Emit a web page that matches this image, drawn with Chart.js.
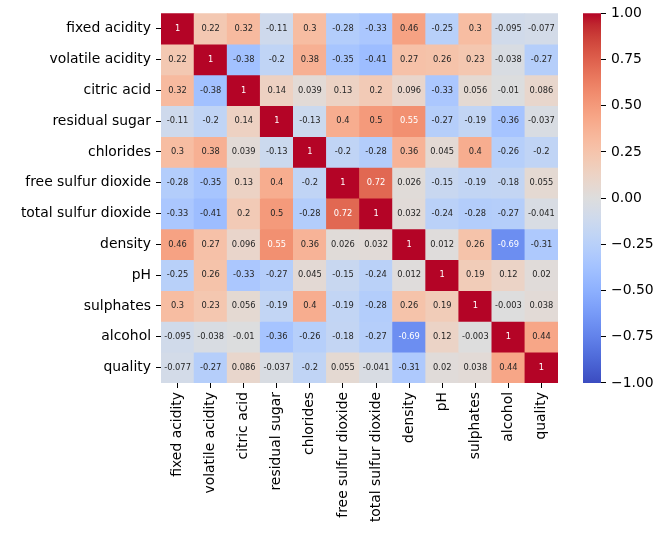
<!DOCTYPE html>
<html>
<head>
<meta charset="utf-8">
<script src="https://cdn.jsdelivr.net/npm/chart.js@4"></script>
<style>
html,body{margin:0;padding:0;background:#fff;}
.box{position:absolute;left:0;top:0;width:657px;height:534px;}
</style>
</head>
<body>
<div class="box"><canvas id="heat"></canvas></div>
<div class="box"><canvas id="cbar"></canvas></div>
<script>
const names = ["fixed acidity","volatile acidity","citric acid","residual sugar","chlorides","free sulfur dioxide","total sulfur dioxide","density","pH","sulphates","alcohol","quality"];

const rowFixedAcidity   = [1, 0.22, 0.32, -0.11, 0.3, -0.28, -0.33, 0.46, -0.25, 0.3, -0.095, -0.077];
const rowVolatile       = [0.22, 1, -0.38, -0.2, 0.38, -0.35, -0.41, 0.27, 0.26, 0.23, -0.038, -0.27];
const rowCitric         = [0.32, -0.38, 1, 0.14, 0.039, 0.13, 0.2, 0.096, -0.33, 0.056, -0.01, 0.086];
const rowResidualSugar  = [-0.11, -0.2, 0.14, 1, -0.13, 0.4, 0.5, 0.55, -0.27, -0.19, -0.36, -0.037];
const rowChlorides      = [0.3, 0.38, 0.039, -0.13, 1, -0.2, -0.28, 0.36, 0.045, 0.4, -0.26, -0.2];
const rowFreeSO2        = [-0.28, -0.35, 0.13, 0.4, -0.2, 1, 0.72, 0.026, -0.15, -0.19, -0.18, 0.055];
const rowTotalSO2       = [-0.33, -0.41, 0.2, 0.5, -0.28, 0.72, 1, 0.032, -0.24, -0.28, -0.27, -0.041];
const rowDensity        = [0.46, 0.27, 0.096, 0.55, 0.36, 0.026, 0.032, 1, 0.012, 0.26, -0.69, -0.31];
const rowPH             = [-0.25, 0.26, -0.33, -0.27, 0.045, -0.15, -0.24, 0.012, 1, 0.19, 0.12, 0.02];
const rowSulphates      = [0.3, 0.23, 0.056, -0.19, 0.4, -0.19, -0.28, 0.26, 0.19, 1, -0.003, 0.038];
const rowAlcohol        = [-0.095, -0.038, -0.01, -0.36, -0.26, -0.18, -0.27, -0.69, 0.12, -0.003, 1, 0.44];
const rowQuality        = [-0.077, -0.27, 0.086, -0.037, -0.2, 0.055, -0.041, -0.31, 0.02, 0.038, 0.44, 1];

const matrix = [rowFixedAcidity,rowVolatile,rowCitric,rowResidualSugar,rowChlorides,rowFreeSO2,rowTotalSO2,rowDensity,rowPH,rowSulphates,rowAlcohol,rowQuality];

const cbarTicks = [-1, -0.75, -0.5, -0.25, 0, 0.25, 0.5, 0.75, 1];

// coolwarm colormap samples
const CW = [[59,76,192],[68,90,204],[77,104,215],[87,117,225],[98,130,234],[108,142,241],[119,154,247],[130,165,251],[141,176,254],[152,185,255],[163,194,255],[174,201,253],[184,208,249],[194,213,244],[204,217,238],[213,219,230],[221,221,221],[229,216,209],[236,211,197],[241,204,184],[245,196,172],[247,187,160],[247,177,148],[247,166,135],[244,154,123],[241,141,111],[236,127,99],[229,112,88],[222,96,77],[213,80,66],[203,62,56],[192,40,47],[180,4,38]];
function cmapRGB(v){
  let t = Math.max(0, Math.min(1, (v+1)/2)) * (CW.length-1);
  const i = Math.min(Math.floor(t), CW.length-2), f = t - i;
  return CW[i].map((c,k)=> c + (CW[i+1][k]-c)*f);
}
function rgbStr(c){ return 'rgb(' + c.map(x=>Math.round(x)).join(',') + ')'; }
function lum(c){
  const l = c.map(x=>{ x/=255; return x<=0.03928 ? x/12.92 : Math.pow((x+0.055)/1.055,2.4); });
  return 0.2126*l[0] + 0.7152*l[1] + 0.0722*l[2];
}

const FONT = "'DejaVu Sans', sans-serif";
const LABEL_SIZE = 13.9;

const annotPlugin = {
  id: 'annot',
  afterDatasetsDraw(chart){
    const ctx = chart.ctx;
    ctx.save();
    ctx.font = "8.3px " + FONT;
    ctx.textAlign = 'center';
    ctx.textBaseline = 'middle';
    chart.data.datasets.forEach((ds, r) => {
      const meta = chart.getDatasetMeta(r);
      meta.data.forEach((bar, c) => {
        const v = matrix[r][c];
        const col = cmapRGB(v);
        ctx.fillStyle = lum(col) < 0.408 ? '#ffffff' : 'rgb(38,38,38)';
        ctx.fillText(String(v), bar.x, (bar.y + bar.base)/2);
      });
    });
    ctx.restore();
  }
};

const datasets = matrix.map((row, r) => ({
  label: names[r],
  data: row.map(() => [r, r+1]),
  backgroundColor: row.map(v => rgbStr(cmapRGB(v))),
  borderWidth: 0,
  grouped: false,
  categoryPercentage: 1,
  barPercentage: 1
}));

new Chart(document.getElementById('heat'), {
  type: 'bar',
  data: { labels: names, datasets },
  options: {
    responsive: true,
    maintainAspectRatio: false,
    animation: false,
    layout: { padding: { left: 0, top: 13, right: 99, bottom: 0 } },
    plugins: { legend: { display: false }, tooltip: { enabled: false } },
    scales: {
      x: {
        type: 'category',
        border: { display: false },
        grid: { drawOnChartArea: false, drawTicks: true, tickLength: 5, offset: false, tickColor: '#000', lineWidth: 1 },
        ticks: { autoSkip: false, maxRotation: 90, minRotation: 90, padding: 4, color: '#000', font: { family: FONT, size: LABEL_SIZE } },
        afterFit(s){ s.height = 151; }
      },
      y: {
        type: 'linear',
        reverse: true,
        min: 0, max: 12,
        border: { display: false },
        grid: { drawOnChartArea: false, drawTicks: true, tickLength: 5, tickColor: '#000', lineWidth: 1 },
        afterBuildTicks(s){ s.ticks = names.map((_, i) => ({ value: i + 0.5 })); },
        ticks: { autoSkip: false, padding: 5, color: '#000', font: { family: FONT, size: LABEL_SIZE },
          callback: (v) => names[Math.floor(v)] },
        afterFit(s){ s.width = 161; }
      }
    }
  },
  plugins: [annotPlugin]
});

new Chart(document.getElementById('cbar'), {
  type: 'bar',
  data: { labels: [''], datasets: [{
    data: [[-1, 1]],
    borderWidth: 0,
    categoryPercentage: 1,
    barPercentage: 1,
    backgroundColor(ctx){
      const ca = ctx.chart.chartArea;
      if (!ca) return 'rgb(221,221,221)';
      const g = ctx.chart.ctx.createLinearGradient(0, ca.bottom, 0, ca.top);
      CW.forEach((c, i) => g.addColorStop(i/(CW.length-1), rgbStr(c)));
      return g;
    }
  }]},
  options: {
    responsive: true,
    maintainAspectRatio: false,
    animation: false,
    layout: { padding: { left: 583, top: 13, right: 0, bottom: 151 } },
    plugins: { legend: { display: false }, tooltip: { enabled: false } },
    scales: {
      x: { display: false },
      y: {
        type: 'linear',
        position: 'right',
        min: -1, max: 1,
        border: { display: false },
        grid: { drawOnChartArea: false, drawTicks: true, tickLength: 5, tickColor: '#000', lineWidth: 1 },
        afterBuildTicks(s){ s.ticks = cbarTicks.map(v => ({ value: v })); },
        ticks: { autoSkip: false, padding: 5, color: '#000', font: { family: FONT, size: LABEL_SIZE },
          callback: (v) => (v < 0 ? '\u2212' : '') + Math.abs(v).toFixed(2) },
        afterFit(s){ s.width = 56; }
      }
    }
  }
});
</script>
</body>
</html>
